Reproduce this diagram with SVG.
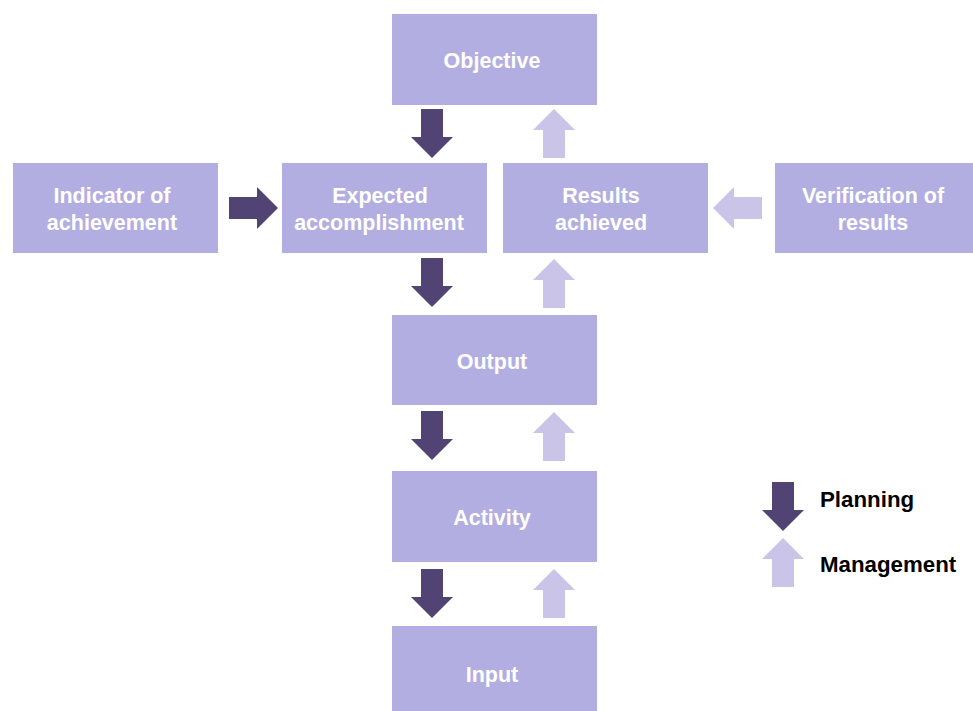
<svg xmlns="http://www.w3.org/2000/svg" xmlns:xlink="http://www.w3.org/1999/xlink" width="973" height="711" viewBox="0 0 973 711">
<style>
.box{fill:#b3aee1}
.lbl{font-family:"Liberation Sans",Arial,sans-serif;font-weight:bold;font-size:21.5px;fill:#ffffff;text-anchor:middle}
.leg{font-family:"Liberation Sans",Arial,sans-serif;font-weight:bold;font-size:22.3px;fill:#000000}
.plan{fill:#514474}
.mgmt{fill:#cac4e8}
</style>
<defs>
<path id="arr" d="M-11,0 H11 V28 H21 L0,49 L-21,28 H-11 Z"/>
</defs>
<rect width="973" height="711" fill="#ffffff"/>
<g id="objective"><rect class="box" x="392" y="14" width="205" height="91"/><text class="lbl" x="492" y="68">Objective</text></g>
<g id="indicator"><rect class="box" x="13" y="163" width="205" height="90"/><text class="lbl" x="112" y="203">Indicator of</text><text class="lbl" x="112" y="230">achievement</text></g>
<g id="expected"><rect class="box" x="282" y="163" width="205" height="90"/><text class="lbl" x="380" y="203">Expected</text><text class="lbl" x="379" y="230">accomplishment</text></g>
<g id="results"><rect class="box" x="503" y="163" width="205" height="90"/><text class="lbl" x="601" y="203">Results</text><text class="lbl" x="601" y="230">achieved</text></g>
<g id="verification"><rect class="box" x="775" y="163" width="198" height="90"/><text class="lbl" x="873" y="203">Verification of</text><text class="lbl" x="873" y="230">results</text></g>
<g id="output"><rect class="box" x="392" y="315" width="205" height="90"/><text class="lbl" x="492" y="369">Output</text></g>
<g id="activity"><rect class="box" x="392" y="471" width="205" height="91"/><text class="lbl" x="492" y="525">Activity</text></g>
<g id="input"><rect class="box" x="392" y="626" width="205" height="85"/><text class="lbl" x="492" y="682">Input</text></g>
<g id="connectors">
<use xlink:href="#arr" class="plan" transform="translate(432,109)"/>
<use xlink:href="#arr" class="mgmt" transform="translate(554,158) rotate(180)"/>
<use xlink:href="#arr" class="plan" transform="translate(229,208) rotate(-90)"/>
<use xlink:href="#arr" class="mgmt" transform="translate(762,208) rotate(90)"/>
<use xlink:href="#arr" class="plan" transform="translate(432,258)"/>
<use xlink:href="#arr" class="mgmt" transform="translate(554,308) rotate(180)"/>
<use xlink:href="#arr" class="plan" transform="translate(432,411)"/>
<use xlink:href="#arr" class="mgmt" transform="translate(554,461) rotate(180)"/>
<use xlink:href="#arr" class="plan" transform="translate(432,569)"/>
<use xlink:href="#arr" class="mgmt" transform="translate(554,618) rotate(180)"/>
</g>
<g id="legend">
<use xlink:href="#arr" class="plan" transform="translate(783,482)"/>
<use xlink:href="#arr" class="mgmt" transform="translate(783,587) rotate(180)"/>
<text class="leg" x="820" y="507">Planning</text>
<text class="leg" x="820" y="572">Management</text>
</g>
</svg>
